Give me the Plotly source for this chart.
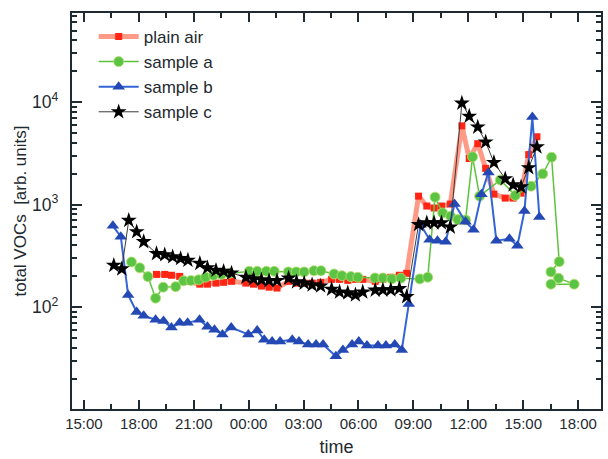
import plotly.graph_objects as go
from datetime import datetime, timedelta

DAY1 = datetime(2000, 1, 1)

# times written as "d HH:MM" where d = 0 (first day) or 1 (second day)
plain_air_t = ["0 18:58", "0 19:25", "0 19:47", "0 20:14", "0 20:41",
               "0 21:20", "0 21:45", "0 22:13", "0 22:38", "0 23:04",
               "0 23:51", "1 00:16", "1 00:42", "1 01:07", "1 01:33",
               "1 02:11", "1 02:37", "1 03:02", "1 03:28", "1 03:56",
               "1 04:32", "1 04:58", "1 05:25", "1 05:50", "1 06:14",
               "1 06:55", "1 07:20", "1 07:46", "1 08:14", "1 08:38",
               "1 09:17", "1 09:44", "1 10:08", "1 10:32", "1 11:01",
               "1 11:39", "1 12:03", "1 12:31", "1 12:57", "1 13:24",
               "1 14:01", "1 14:27", "1 14:53", "1 15:18", "1 15:45"]
plain_air_v = [208, 208, 204, 199, 178,
               167, 167, 171, 174, 178,
               171, 167, 160, 156, 153,
               178, 171, 171, 171, 174,
               186, 186, 182, 186, 186,
               178, 186, 195, 204, 213,
               1208, 967, 925, 967, 1011,
               5861, 2813, 3928, 2253, 1264,
               1156, 1156, 1291, 3076, 4590]

sample_a_t = ["0 17:36", "0 18:03", "0 18:30", "0 18:55", "0 19:20",
              "0 20:01", "0 20:27", "0 20:51", "0 21:16", "0 21:39",
              "0 22:05", "0 22:31", "0 22:57",
              "1 00:02", "1 00:28", "1 00:58", "1 01:24",
              "1 02:10", "1 02:36", "1 03:02", "1 03:34", "1 03:57",
              "1 04:40", "1 05:06", "1 05:35", "1 05:58",
              "1 06:54", "1 07:20", "1 07:49", "1 08:19",
              "1 09:21", "1 09:47", "1 10:11", "1 10:36", "1 11:02",
              "1 11:26", "1 11:51", "1 12:14", "1 12:37",
              "1 13:45", "1 14:34", "1 15:26", "1 16:04", "1 16:33",
              "1 16:58", "1 16:31", "1 16:56", "1 17:47", "1 16:31"]
sample_a_v = [275, 241, 198, 122, 156,
              158, 180, 181, 184, 195,
              204, 208, 213,
              223, 223, 223, 223,
              220, 220, 220, 226, 226,
              210, 202, 198, 195,
              192, 192, 188, 191,
              188, 195, 1181, 828, 769,
              713, 708, 2922, 1208,
              1737, 1227, 1509, 1993, 2897,
              277, 220, 191, 167, 167]

sample_b_t = ["0 16:35", "0 17:01", "0 17:25", "0 17:53", "0 18:16",
              "0 18:55", "0 19:21", "0 19:47", "0 20:14", "0 20:40",
              "0 21:19", "0 21:45", "0 22:08", "0 22:34", "0 23:03",
              "0 23:59", "1 00:28", "1 00:51", "1 01:17", "1 01:43",
              "1 02:23", "1 02:45", "1 03:15", "1 03:41", "1 04:04",
              "1 04:46", "1 05:09", "1 05:39", "1 06:01", "1 06:28",
              "1 07:04", "1 07:30", "1 07:59", "1 08:22", "1 08:45",
              "1 09:24", "1 09:53", "1 10:19", "1 10:46", "1 11:15",
              "1 11:51", "1 12:17", "1 12:43", "1 13:06", "1 13:32",
              "1 14:15", "1 14:41", "1 15:04", "1 15:30", "1 15:53"]
sample_b_v = [620, 485, 131, 89.5, 82,
              75, 73, 63, 70, 70,
              75, 64, 60, 54, 63,
              54, 59, 48, 46, 46,
              48, 46, 43, 43, 43,
              33, 38, 43, 46, 42,
              42, 42, 43, 38, 107,
              634, 454, 444, 434, 1011,
              678, 567, 1263, 2061, 444,
              464, 397, 865, 7161, 757]

sample_c_t = ["0 16:38", "0 17:04", "0 17:27", "0 17:53", "0 18:16",
              "0 18:58", "0 19:25", "0 19:51", "0 20:17", "0 20:41",
              "0 21:20", "0 21:45", "0 22:13", "0 22:38", "0 23:04",
              "0 23:51", "1 00:16", "1 00:42", "1 01:07", "1 01:33",
              "1 02:11", "1 02:37", "1 03:02", "1 03:28", "1 03:56",
              "1 04:32", "1 04:58", "1 05:25", "1 05:50", "1 06:14",
              "1 06:55", "1 07:20", "1 07:46", "1 08:14", "1 08:38",
              "1 09:17", "1 09:44", "1 10:08", "1 10:32", "1 11:01",
              "1 11:39", "1 12:03", "1 12:31", "1 12:57", "1 13:24",
              "1 14:01", "1 14:27", "1 14:53", "1 15:18", "1 15:45"]
sample_c_v = [255, 235, 700, 542, 434,
              332, 323, 309, 297, 286,
              266, 241, 228, 223, 214,
              195, 188, 184, 181, 181,
              191, 176, 171, 164, 160,
              149, 140, 137, 131, 140,
              146, 147, 147, 151, 126,
              638, 662, 662, 662, 602,
              9773, 7278, 5699, 4081, 2574,
              1783, 1554, 1486, 2288, 3652]

series_names = ["plain air", "sample a", "sample b", "sample c"]
x_tick_step_hours = 3


def to_dt(s):
    d, hm = s.split(" ")
    h, m = hm.split(":")
    return DAY1 + timedelta(days=int(d), hours=int(h), minutes=int(m))


FONT = "Arial, 'Liberation Sans', Helvetica, sans-serif"
AXIS_COLOR = "#1f2b33"
TEXT_COLOR = "#1e2a30"

fig = go.Figure()

fig.add_trace(go.Scatter(
    x=[to_dt(s) for s in plain_air_t], y=plain_air_v, name=series_names[0],
    mode="lines+markers",
    line=dict(color="rgba(255,120,95,0.75)", width=5),
    marker=dict(symbol="square", size=7, color="#ff2414"),
))
fig.add_trace(go.Scatter(
    x=[to_dt(s) for s in sample_a_t], y=sample_a_v, name=series_names[1],
    mode="lines+markers",
    line=dict(color="#5cc43c", width=1.5),
    marker=dict(symbol="circle", size=10, color="#5cc444",
                line=dict(color="#b8e070", width=0.8)),
))
fig.add_trace(go.Scatter(
    x=[to_dt(s) for s in sample_b_t], y=sample_b_v, name=series_names[2],
    mode="lines+markers",
    line=dict(color="#3365d6", width=2),
    marker=dict(symbol="triangle-up", size=11, color="#2448b4"),
))
fig.add_trace(go.Scatter(
    x=[to_dt(s) for s in sample_c_t], y=sample_c_v, name=series_names[3],
    mode="lines+markers",
    line=dict(color="#3a3a3a", width=1),
    marker=dict(symbol="star", size=12, color="#000000"),
))

fig.update_layout(
    width=608, height=459,
    margin=dict(l=72, r=5, t=13, b=47),
    paper_bgcolor="white", plot_bgcolor="white",
    font=dict(family=FONT, color=TEXT_COLOR, size=16),
    showlegend=True,
    legend=dict(x=0.041, y=0.985, xanchor="left", yanchor="top",
                bgcolor="rgba(0,0,0,0)", font=dict(size=17, family=FONT),
                tracegroupgap=0, itemwidth=40),
)

fig.update_xaxes(
    type="date",
    range=[DAY1 + timedelta(hours=14, minutes=21), DAY1 + timedelta(hours=43, minutes=15)],
    tick0=DAY1 + timedelta(hours=15),
    dtick=x_tick_step_hours * 3600 * 1000,
    tickformat="%H:%M",
    ticks="inside", ticklen=9, tickwidth=2, tickcolor=AXIS_COLOR,
    minor=dict(dtick=x_tick_step_hours / 2 * 3600 * 1000, ticks="inside",
               ticklen=5, tickwidth=1.6, tickcolor=AXIS_COLOR, showgrid=False),
    showline=True, linecolor=AXIS_COLOR, linewidth=1.8, mirror="ticks",
    showgrid=False, zeroline=False,
    tickfont=dict(size=15),
    title=dict(text="time", font=dict(size=18), standoff=9),
)

fig.update_yaxes(
    type="log",
    range=[1.004, 4.87],
    dtick=1,
    exponentformat="power",
    ticks="inside", ticklen=10, tickwidth=2, tickcolor=AXIS_COLOR,
    minor=dict(dtick="D1", ticks="inside",
               ticklen=5, tickwidth=1.6, tickcolor=AXIS_COLOR, showgrid=False),
    showline=True, linecolor=AXIS_COLOR, linewidth=1.8, mirror="ticks",
    showgrid=False, zeroline=False,
    tickfont=dict(size=14),
    ticklabelstandoff=9,
    title=dict(text="total VOCs  [arb. units]", font=dict(size=17), standoff=1),
)

fig.write_html("out.html",
               config={"displayModeBar": False},
               post_script="document.body.style.margin='0';document.body.style.padding='0';")
